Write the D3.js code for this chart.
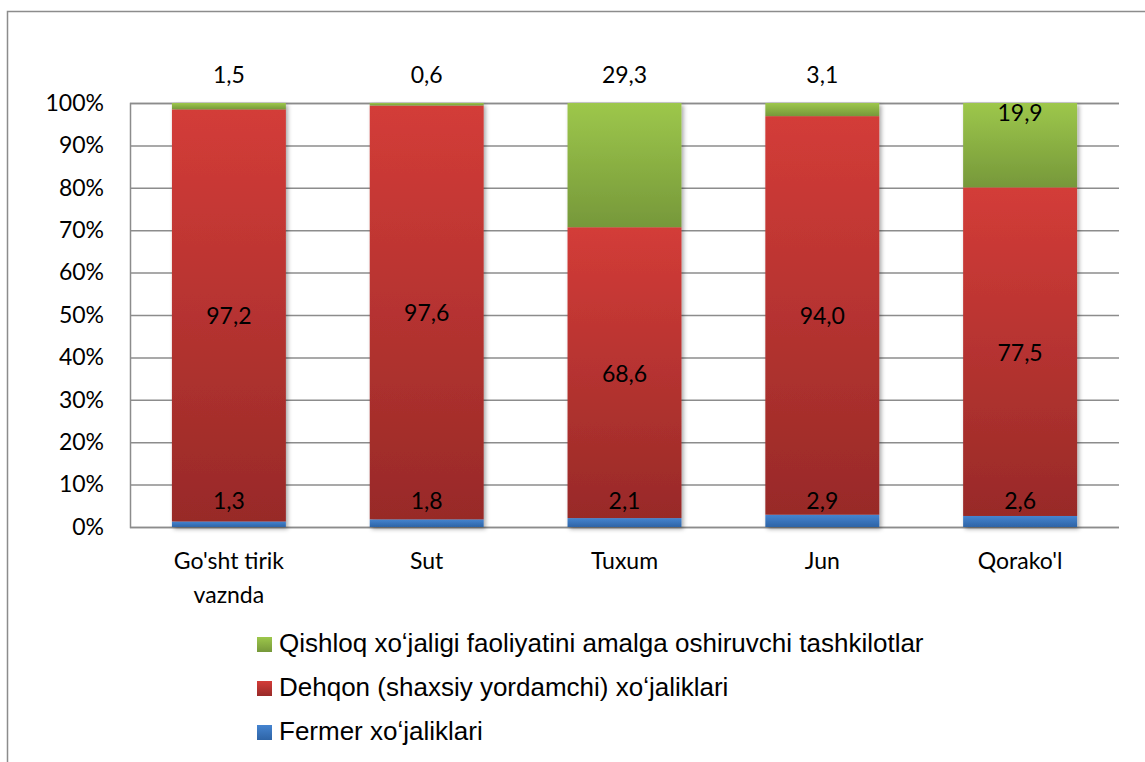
<!DOCTYPE html>
<html>
<head>
<meta charset="utf-8">
<script src="https://cdn.jsdelivr.net/npm/d3@7"></script>
<style>
  body { margin: 0; background: #fff; }
  svg { display: block; }
  .tick text { font-family: Lato, "Open Sans", sans-serif; font-size: 23px; fill: #000; }
</style>
</head>
<body>
<svg id="chart" width="1145" height="762"></svg>
<script>
const categories = ["Go'sht tirik vaznda", "Sut", "Tuxum", "Jun", "Qorako'l"];
const fermer = [1.3, 1.8, 2.1, 2.9, 2.6];
const dehqon = [97.2, 97.6, 68.6, 94.0, 77.5];
const tashkilot = [1.5, 0.6, 29.3, 3.1, 19.9];
const yTicks = [0, 10, 20, 30, 40, 50, 60, 70, 80, 90, 100];
const seriesNames = [
  "Qishloq xoʻjaligi faoliyatini amalga oshiruvchi tashkilotlar",
  "Dehqon (shaxsiy yordamchi) xoʻjaliklari",
  "Fermer xoʻjaliklari",
];

const svg = d3.select("#chart");
const plotLeft = 130, plotRight = 1119, plotTop = 103, plotBottom = 527;

const x = d3.scaleBand().domain(categories).range([plotLeft, plotRight])
  .paddingInner(0.424).paddingOuter(0.212);
const y = d3.scaleLinear().domain([0, 100]).range([plotBottom, plotTop]);

const fmt = (v) => d3.format(".1f")(v).replace(".", ",");

// outer frame
svg.append("rect")
  .attr("x", 7.5).attr("y", 11.5).attr("width", 1200).attr("height", 800)
  .attr("fill", "none").attr("stroke", "#8c8c8c").attr("stroke-width", 1.5);

const defs = svg.append("defs");
const grads = {
  green: ["#9dc74b", "#76983a"],
  red: ["#d33c38", "#982a28"],
  blue: ["#4584d0", "#2e64a6"],
};
Object.entries(grads).forEach(([k, [c0, c1]]) => {
  const g = defs.append("linearGradient").attr("id", "g-" + k)
    .attr("x1", 0).attr("y1", 0).attr("x2", 0).attr("y2", 1);
  g.append("stop").attr("offset", "0%").attr("stop-color", c0);
  g.append("stop").attr("offset", "100%").attr("stop-color", c1);
});
const shadow = defs.append("filter").attr("id", "shadow")
  .attr("x", "-10%").attr("y", "-10%").attr("width", "130%").attr("height", "130%");
shadow.append("feDropShadow").attr("dx", 2).attr("dy", 2)
  .attr("stdDeviation", 2).attr("flood-color", "#000").attr("flood-opacity", 0.35);

// gridlines + y axis
const yAxis = svg.append("g")
  .attr("transform", `translate(${plotLeft},0)`)
  .call(d3.axisLeft(y).tickValues(yTicks).tickSize(-(plotRight - plotLeft)).tickPadding(26)
    .tickFormat((d) => d + "%"));
yAxis.select(".domain").attr("stroke", "#8c8c8c").attr("stroke-width", 1.5);
yAxis.selectAll(".tick line").attr("stroke", "#8c8c8c").attr("stroke-width", 1.5);

// stacked data
const rows = categories.map((c, i) => ({
  cat: c,
  segs: [
    { key: "blue", v0: 0, v1: fermer[i], val: fermer[i] },
    { key: "red", v0: fermer[i], v1: fermer[i] + dehqon[i], val: dehqon[i] },
    { key: "green", v0: fermer[i] + dehqon[i], v1: 100, val: tashkilot[i] },
  ],
}));

const bars = svg.append("g").attr("filter", "url(#shadow)");
rows.forEach((r) => {
  bars.selectAll(null)
    .data(r.segs)
    .enter()
    .append("rect")
    .attr("x", x(r.cat))
    .attr("width", x.bandwidth())
    .attr("y", (d) => y(d.v1))
    .attr("height", (d) => y(d.v0) - y(d.v1))
    .attr("fill", (d) => `url(#g-${d.key})`);
});

// data labels
const labels = svg.append("g")
  .attr("font-family", "Lato, 'Open Sans', sans-serif")
  .attr("font-size", 23)
  .attr("text-anchor", "middle")
  .attr("dominant-baseline", "central");
rows.forEach((r, i) => {
  const cx = x(r.cat) + x.bandwidth() / 2;
  // blue (fermer) labels sit just above the bottom
  labels.append("text").attr("x", cx).attr("y", y(0) - 27).text(fmt(fermer[i]));
  // red in middle of segment
  labels.append("text").attr("x", cx)
    .attr("y", y((r.segs[1].v0 + r.segs[1].v1) / 2)).text(fmt(dehqon[i]));
  // green above bar, except Qorako'l inside
  const gy = i === 4 ? y(100) + 9 : y(100) - 29;
  labels.append("text").attr("x", cx).attr("y", gy).text(fmt(tashkilot[i]));
});

// category labels
const catG = svg.append("g")
  .attr("font-family", "Lato, 'Open Sans', sans-serif")
  .attr("font-size", 23)
  .attr("text-anchor", "middle");
categories.forEach((c) => {
  const words = c.split(" ");
  const lines = words.length > 2 ? [words.slice(0, 2).join(" "), words.slice(2).join(" ")] : [c];
  const t = catG.append("text").attr("x", x(c) + x.bandwidth() / 2).attr("y", y(0) + 42);
  lines.forEach((l, j) => t.append("tspan").attr("x", x(c) + x.bandwidth() / 2)
    .attr("dy", j === 0 ? 0 : 34).text(l));
});

// legend
const legendKeys = ["green", "red", "blue"];
const legend = svg.append("g")
  .attr("font-family", "'Liberation Sans', Arial, sans-serif")
  .attr("font-size", 26);
legendKeys.forEach((k, i) => {
  const ly = 643 + i * 44;
  legend.append("rect").attr("x", 257).attr("y", ly - 6).attr("width", 15).attr("height", 15)
    .attr("fill", `url(#g-${k})`);
  legend.append("text").attr("x", 279).attr("y", ly).attr("dominant-baseline", "central")
    .text(seriesNames[i]);
});
</script>
</body>
</html>
